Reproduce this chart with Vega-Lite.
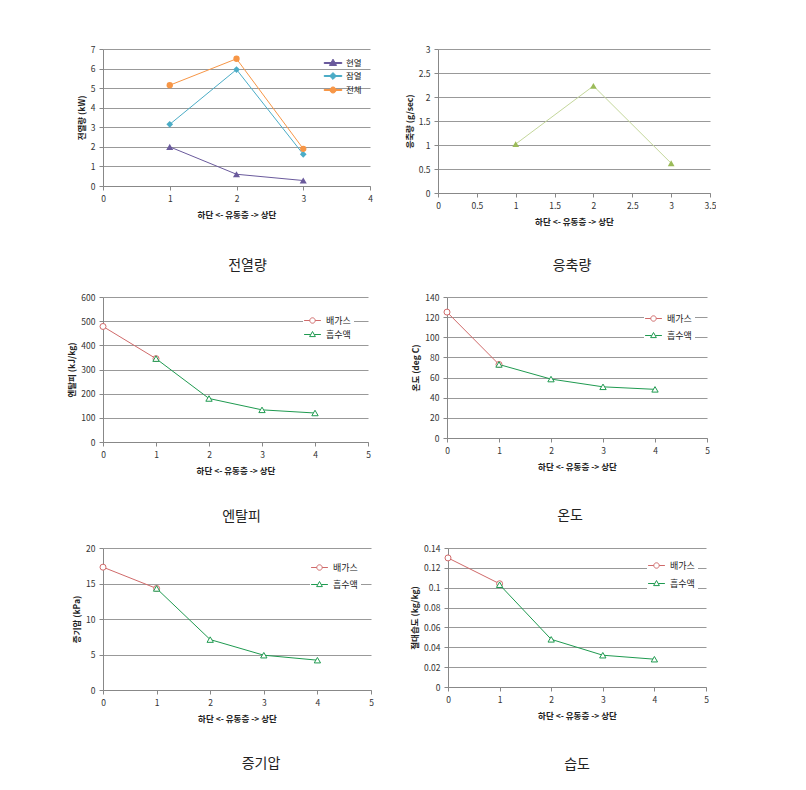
{
  "$schema": "https://vega.github.io/schema/vega-lite/v6.json",
  "background": "white",
  "padding": {"left": 67, "top": 45, "right": 0, "bottom": 0},
  "config": {
    "view": {"stroke": null},
    "font": "Noto Sans CJK KR",
    "axis": {"labelFontSize": 8.5, "labelColor": "#333", "titleFontSize": 8.5, "titleFontWeight": "bold", "titleColor": "#222", "domainColor": "#888", "tickColor": "#888", "tickSize": 4, "labelPadding": 4, "gridColor": "#999", "labelFlush": false},
    "axisX": {"grid": false, "titlePadding": 8},
    "axisY": {"grid": true, "titlePadding": 4},
    "legend": {"labelFontSize": 9, "labelColor": "#222", "labelOffset": 7, "symbolOpacity": 1, "symbolStrokeWidth": 1},
    "title": {"font": "Noto Sans CJK KR", "fontSize": 14, "fontWeight": "normal", "color": "#222", "orient": "bottom", "anchor": "middle", "frame": "group"}
  },
  "resolve": {"scale": {"color": "independent", "shape": "independent", "x": "independent", "y": "independent"}, "legend": {"color": "independent", "shape": "independent"}},
  "datasets": {
    "heat": [
      {"pos": 1, "series": "현열", "value": 2.0},
      {"pos": 2, "series": "현열", "value": 0.6},
      {"pos": 3, "series": "현열", "value": 0.28},
      {"pos": 1, "series": "잠열", "value": 3.15},
      {"pos": 2, "series": "잠열", "value": 5.95},
      {"pos": 3, "series": "잠열", "value": 1.62},
      {"pos": 1, "series": "전체", "value": 5.15},
      {"pos": 2, "series": "전체", "value": 6.5},
      {"pos": 3, "series": "전체", "value": 1.9}
    ],
    "cond": [
      {"pos": 1, "value": 1.02},
      {"pos": 2, "value": 2.23},
      {"pos": 3, "value": 0.62}
    ],
    "enthalpy": [
      {"pos": 0, "series": "배가스", "value": 478},
      {"pos": 1, "series": "배가스", "value": 345},
      {"pos": 1, "series": "흡수액", "value": 345},
      {"pos": 2, "series": "흡수액", "value": 180},
      {"pos": 3, "series": "흡수액", "value": 133},
      {"pos": 4, "series": "흡수액", "value": 120}
    ],
    "temp": [
      {"pos": 0, "series": "배가스", "value": 125},
      {"pos": 1, "series": "배가스", "value": 73},
      {"pos": 1, "series": "흡수액", "value": 73},
      {"pos": 2, "series": "흡수액", "value": 58.5},
      {"pos": 3, "series": "흡수액", "value": 50.8},
      {"pos": 4, "series": "흡수액", "value": 48.3}
    ],
    "pressure": [
      {"pos": 0, "series": "배가스", "value": 17.3},
      {"pos": 1, "series": "배가스", "value": 14.3},
      {"pos": 1, "series": "흡수액", "value": 14.3},
      {"pos": 2, "series": "흡수액", "value": 7.1},
      {"pos": 3, "series": "흡수액", "value": 4.9},
      {"pos": 4, "series": "흡수액", "value": 4.2}
    ],
    "humidity": [
      {"pos": 0, "series": "배가스", "value": 0.13},
      {"pos": 1, "series": "배가스", "value": 0.104},
      {"pos": 1, "series": "흡수액", "value": 0.103},
      {"pos": 2, "series": "흡수액", "value": 0.048},
      {"pos": 3, "series": "흡수액", "value": 0.032},
      {"pos": 4, "series": "흡수액", "value": 0.028}
    ]
  },
  "columns": 1,
  "align": "none",
  "spacing": 20,
  "concat": [
    {
      "spacing": 32,
      "resolve": {"scale": {"color": "independent", "shape": "independent", "x": "independent", "y": "independent"}, "legend": {"color": "independent", "shape": "independent"}},
      "hconcat": [
        {
          "width": 267, "height": 137,
          "data": {"name": "heat"},
          "title": {"text": "전열량", "offset": 40, "dx": 11},
          "encoding": {
            "x": {"field": "pos", "type": "quantitative", "scale": {"domain": [0, 4], "nice": false}, "axis": {"values": [0, 1, 2, 3, 4], "title": "하단 <- 유동층 -> 상단"}},
            "y": {"field": "value", "type": "quantitative", "scale": {"domain": [0, 7], "nice": false}, "axis": {"values": [0, 1, 2, 3, 4, 5, 6, 7], "title": "전열량 (kW)"}},
            "color": {"field": "series", "type": "nominal", "scale": {"domain": ["현열", "잠열", "전체"], "range": ["#6a5a9c", "#4bacc6", "#f79646"]},
              "legend": {"title": null, "orient": "top-right", "offset": 6, "symbolSize": 121, "rowPadding": 2, "padding": 2, "labelFontSize": 8.5}}
          },
          "layer": [
            {"mark": {"type": "line", "strokeWidth": 1}},
            {"transform": [{"filter": "datum.series === '현열'"}], "mark": {"type": "point", "filled": true, "size": 50, "opacity": 1, "shape": "triangle-up"}},
            {"transform": [{"filter": "datum.series === '잠열'"}], "mark": {"type": "point", "filled": true, "size": 45, "opacity": 1, "shape": "diamond"}},
            {"transform": [{"filter": "datum.series === '전체'"}], "mark": {"type": "point", "filled": true, "size": 40, "opacity": 1, "shape": "circle"}},
            {"mark": {"type": "point", "filled": true, "opacity": 0, "size": 1},
             "encoding": {"shape": {"field": "series", "type": "nominal",
               "scale": {"domain": ["현열", "잠열", "전체"], "range": [
                 "M-1.6,-0.09H1.6V0.09H-1.6ZM0,-0.7L0.65,0.45L-0.65,0.45Z",
                 "M-1.6,-0.09H1.6V0.09H-1.6ZM0,-0.62L0.62,0L0,0.62L-0.62,0Z",
                 "M-1.6,-0.09H1.6V0.09H-1.6ZM0.55,0A0.55,0.55,0,1,1,-0.55,0A0.55,0.55,0,1,1,0.55,0Z"]},
               "legend": {"title": null, "orient": "top-right", "offset": 6, "symbolSize": 121, "rowPadding": 2, "padding": 2, "labelFontSize": 8.5}}}}
          ]
        },
        {
          "width": 272, "height": 144,
          "data": {"name": "cond"},
          "title": {"text": "응축량", "offset": 33, "dx": -2},
          "encoding": {
            "x": {"field": "pos", "type": "quantitative", "scale": {"domain": [0, 3.5], "nice": false}, "axis": {"values": [0, 0.5, 1, 1.5, 2, 2.5, 3, 3.5], "format": "~g", "title": "하단 <- 유동층 -> 상단"}},
            "y": {"field": "value", "type": "quantitative", "scale": {"domain": [0, 3], "nice": false}, "axis": {"values": [0, 0.5, 1, 1.5, 2, 2.5, 3], "format": "~g", "title": "응축량 (g/sec)"}}
          },
          "layer": [
            {"mark": {"type": "line", "strokeWidth": 1, "color": "#c4d79b"}},
            {"mark": {"type": "point", "filled": true, "size": 45, "shape": "triangle-up", "color": "#9bbb59", "opacity": 1}}
          ]
        }
      ]
    },
    {
      "spacing": 40,
      "resolve": {"scale": {"color": "independent", "shape": "independent", "x": "independent", "y": "independent"}, "legend": {"color": "independent", "shape": "independent"}},
      "hconcat": [
        {
          "width": 265, "height": 145,
          "data": {"name": "enthalpy"},
          "title": {"text": "엔탈피", "offset": 35, "dx": 6},
          "encoding": {
            "x": {"field": "pos", "type": "quantitative", "scale": {"domain": [0, 5], "nice": false}, "axis": {"values": [0, 1, 2, 3, 4, 5], "title": "하단 <- 유동층 -> 상단"}},
            "y": {"field": "value", "type": "quantitative", "scale": {"domain": [0, 600], "nice": false}, "axis": {"values": [0, 100, 200, 300, 400, 500, 600], "title": "엔탈피 (kJ/kg)"}},
            "color": {"field": "series", "type": "nominal", "scale": {"domain": ["배가스", "흡수액"], "range": ["#d06a6a", "#1f9a50"]},
              "legend": {"title": null, "orient": "top-right", "offset": 14, "fillColor": "white", "symbolSize": 144, "rowPadding": 2, "padding": 3}}
          },
          "layer": [
            {"mark": {"type": "line", "strokeWidth": 1}},
            {"transform": [{"filter": "datum.series === '배가스'"}], "mark": {"type": "point", "filled": false, "fill": "white", "fillOpacity": 1, "size": 36, "opacity": 1, "strokeWidth": 1, "shape": "circle"}},
            {"transform": [{"filter": "datum.series === '흡수액'"}], "mark": {"type": "point", "filled": false, "fill": "white", "fillOpacity": 1, "size": 40, "opacity": 1, "strokeWidth": 1, "shape": "triangle-up"}},
            {"mark": {"type": "point", "filled": false, "opacity": 0, "size": 1},
             "encoding": {"shape": {"field": "series", "type": "nominal",
               "scale": {"domain": ["배가스", "흡수액"], "range": [
                 "M-1.4,0H-0.45M0.45,0H1.4M0.45,0A0.45,0.45,0,1,1,-0.45,0A0.45,0.45,0,1,1,0.45,0Z",
                 "M-1.4,0H-0.3M0.3,0H1.4M0,-0.5L0.48,0.35L-0.48,0.35Z"]},
               "legend": {"title": null, "orient": "top-right", "offset": 14, "fillColor": "white", "symbolSize": 144, "rowPadding": 2, "padding": 3}}}}
          ]
        },
        {
          "width": 260, "height": 141,
          "data": {"name": "temp"},
          "title": {"text": "온도", "offset": 38, "dx": -7},
          "encoding": {
            "x": {"field": "pos", "type": "quantitative", "scale": {"domain": [0, 5], "nice": false}, "axis": {"values": [0, 1, 2, 3, 4, 5], "title": "하단 <- 유동층 -> 상단"}},
            "y": {"field": "value", "type": "quantitative", "scale": {"domain": [0, 140], "nice": false}, "axis": {"values": [0, 20, 40, 60, 80, 100, 120, 140], "title": "온도 (deg C)"}},
            "color": {"field": "series", "type": "nominal", "scale": {"domain": ["배가스", "흡수액"], "range": ["#d06a6a", "#1f9a50"]},
              "legend": {"title": null, "orient": "top-right", "offset": 12, "fillColor": "white", "symbolSize": 144, "rowPadding": 5, "padding": 3}}
          },
          "layer": [
            {"mark": {"type": "line", "strokeWidth": 1}},
            {"transform": [{"filter": "datum.series === '배가스'"}], "mark": {"type": "point", "filled": false, "fill": "white", "fillOpacity": 1, "size": 36, "opacity": 1, "strokeWidth": 1, "shape": "circle"}},
            {"transform": [{"filter": "datum.series === '흡수액'"}], "mark": {"type": "point", "filled": false, "fill": "white", "fillOpacity": 1, "size": 40, "opacity": 1, "strokeWidth": 1, "shape": "triangle-up"}},
            {"mark": {"type": "point", "filled": false, "opacity": 0, "size": 1},
             "encoding": {"shape": {"field": "series", "type": "nominal",
               "scale": {"domain": ["배가스", "흡수액"], "range": [
                 "M-1.4,0H-0.45M0.45,0H1.4M0.45,0A0.45,0.45,0,1,1,-0.45,0A0.45,0.45,0,1,1,0.45,0Z",
                 "M-1.4,0H-0.3M0.3,0H1.4M0,-0.5L0.48,0.35L-0.48,0.35Z"]},
               "legend": {"title": null, "orient": "top-right", "offset": 12, "fillColor": "white", "symbolSize": 144, "rowPadding": 5, "padding": 3}}}}
          ]
        }
      ]
    },
    {
      "spacing": 36,
      "resolve": {"scale": {"color": "independent", "shape": "independent", "x": "independent", "y": "independent"}, "legend": {"color": "independent", "shape": "independent"}},
      "hconcat": [
        {
          "width": 268, "height": 142,
          "data": {"name": "pressure"},
          "title": {"text": "증기압", "offset": 34, "dx": 24},
          "encoding": {
            "x": {"field": "pos", "type": "quantitative", "scale": {"domain": [0, 5], "nice": false}, "axis": {"values": [0, 1, 2, 3, 4, 5], "title": "하단 <- 유동층 -> 상단"}},
            "y": {"field": "value", "type": "quantitative", "scale": {"domain": [0, 20], "nice": false}, "axis": {"values": [0, 5, 10, 15, 20], "title": "증기압 (kPa)"}},
            "color": {"field": "series", "type": "nominal", "scale": {"domain": ["배가스", "흡수액"], "range": ["#d06a6a", "#1f9a50"]},
              "legend": {"title": null, "orient": "top-right", "offset": 10, "fillColor": "white", "symbolSize": 144, "rowPadding": 5, "padding": 3}}
          },
          "layer": [
            {"mark": {"type": "line", "strokeWidth": 1}},
            {"transform": [{"filter": "datum.series === '배가스'"}], "mark": {"type": "point", "filled": false, "fill": "white", "fillOpacity": 1, "size": 36, "opacity": 1, "strokeWidth": 1, "shape": "circle"}},
            {"transform": [{"filter": "datum.series === '흡수액'"}], "mark": {"type": "point", "filled": false, "fill": "white", "fillOpacity": 1, "size": 40, "opacity": 1, "strokeWidth": 1, "shape": "triangle-up"}},
            {"mark": {"type": "point", "filled": false, "opacity": 0, "size": 1},
             "encoding": {"shape": {"field": "series", "type": "nominal",
               "scale": {"domain": ["배가스", "흡수액"], "range": [
                 "M-1.4,0H-0.45M0.45,0H1.4M0.45,0A0.45,0.45,0,1,1,-0.45,0A0.45,0.45,0,1,1,0.45,0Z",
                 "M-1.4,0H-0.3M0.3,0H1.4M0,-0.5L0.48,0.35L-0.48,0.35Z"]},
               "legend": {"title": null, "orient": "top-right", "offset": 10, "fillColor": "white", "symbolSize": 144, "rowPadding": 5, "padding": 3}}}}
          ]
        },
        {
          "width": 258, "height": 139,
          "data": {"name": "humidity"},
          "title": {"text": "습도", "offset": 38, "dx": 0},
          "encoding": {
            "x": {"field": "pos", "type": "quantitative", "scale": {"domain": [0, 5], "nice": false}, "axis": {"values": [0, 1, 2, 3, 4, 5], "title": "하단 <- 유동층 -> 상단"}},
            "y": {"field": "value", "type": "quantitative", "scale": {"domain": [0, 0.14], "nice": false}, "axis": {"values": [0, 0.02, 0.04, 0.06, 0.08, 0.1, 0.12, 0.14], "format": "~g", "title": "절대습도 (kg/kg)"}},
            "color": {"field": "series", "type": "nominal", "scale": {"domain": ["배가스", "흡수액"], "range": ["#d06a6a", "#1f9a50"]},
              "legend": {"title": null, "orient": "top-right", "offset": 8, "fillColor": "white", "symbolSize": 144, "rowPadding": 6, "padding": 3}}
          },
          "layer": [
            {"mark": {"type": "line", "strokeWidth": 1}},
            {"transform": [{"filter": "datum.series === '배가스'"}], "mark": {"type": "point", "filled": false, "fill": "white", "fillOpacity": 1, "size": 36, "opacity": 1, "strokeWidth": 1, "shape": "circle"}},
            {"transform": [{"filter": "datum.series === '흡수액'"}], "mark": {"type": "point", "filled": false, "fill": "white", "fillOpacity": 1, "size": 40, "opacity": 1, "strokeWidth": 1, "shape": "triangle-up"}},
            {"mark": {"type": "point", "filled": false, "opacity": 0, "size": 1},
             "encoding": {"shape": {"field": "series", "type": "nominal",
               "scale": {"domain": ["배가스", "흡수액"], "range": [
                 "M-1.4,0H-0.45M0.45,0H1.4M0.45,0A0.45,0.45,0,1,1,-0.45,0A0.45,0.45,0,1,1,0.45,0Z",
                 "M-1.4,0H-0.3M0.3,0H1.4M0,-0.5L0.48,0.35L-0.48,0.35Z"]},
               "legend": {"title": null, "orient": "top-right", "offset": 8, "fillColor": "white", "symbolSize": 144, "rowPadding": 6, "padding": 3}}}}
          ]
        }
      ]
    }
  ]
}
